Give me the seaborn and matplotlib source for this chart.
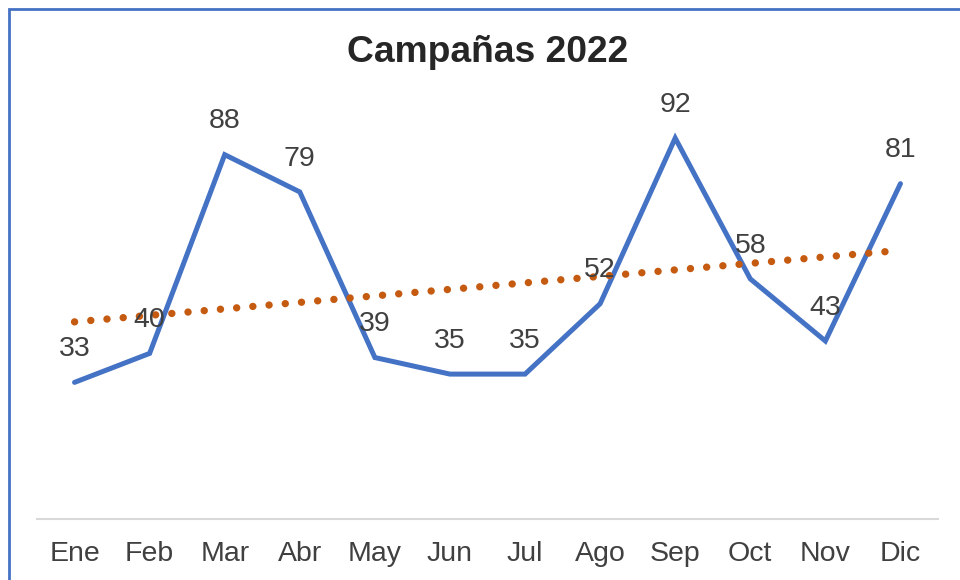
import matplotlib
matplotlib.use("Agg")
import matplotlib.pyplot as plt
import seaborn as sns
import numpy as np
import pandas as pd
from matplotlib.patches import Rectangle

months = ["Ene", "Feb", "Mar", "Abr", "May", "Jun", "Jul", "Ago", "Sep", "Oct", "Nov", "Dic"]
values = [33, 40, 88, 79, 39, 35, 35, 52, 92, 58, 43, 81]
title = "Campañas 2022"

sns.set_theme(style="white")
plt.rcParams["font.family"] = ["Liberation Sans", "DejaVu Sans"]

df = pd.DataFrame({"mes": months, "valor": values, "pos": np.arange(len(months))})

fig = plt.figure(figsize=(9.6, 5.8), dpi=100)
ax = fig.add_axes([37 / 960, 1 - 519 / 580, (938 - 37) / 960, (519 - 105) / 580])

sns.lineplot(data=df, x="pos", y="valor", ax=ax, color="#4472C4", linewidth=3.6,
             solid_joinstyle="miter", solid_capstyle="round", zorder=3)

# linear trendline
coef = np.polyfit(df["pos"], df["valor"], 1)
trend = np.polyval(coef, df["pos"])
ax.plot(df["pos"], trend, color="#C55A11", linewidth=5.3,
        linestyle=(0, (0.01, 2.2)), dash_capstyle="round", zorder=4)

for xpos, v in zip(df["pos"], df["valor"]):
    ax.annotate(str(v), (xpos, v), xytext=(0, 24), textcoords="offset points",
                ha="center", va="center", fontsize=20.5, color="#404040", zorder=5)

ax.set_xlim(-0.5, len(months) - 0.5)
ax.set_ylim(0, 100)
ax.set_xticks(df["pos"])
ax.set_xticklabels(months, fontsize=20.5, color="#404040")
ax.set_yticks([])
ax.set_xlabel("")
ax.set_ylabel("")
ax.tick_params(axis="x", length=0, pad=16)
for s in ["top", "right", "left"]:
    ax.spines[s].set_visible(False)
ax.spines["bottom"].set_color("#D9D9D9")
ax.spines["bottom"].set_linewidth(1.5)

fig.text(488 / 960, 1 - 52 / 580, title, ha="center", va="center",
         fontsize=26.8, fontweight="bold", color="#262626")

fig.patches.append(Rectangle((9 / 960, -0.1), 1.2, 1 - 9 / 580 + 0.1,
                             transform=fig.transFigure, fill=False,
                             edgecolor="#4472C4", linewidth=2.0, zorder=10))

fig.savefig("out.png", dpi=100, facecolor="white")
